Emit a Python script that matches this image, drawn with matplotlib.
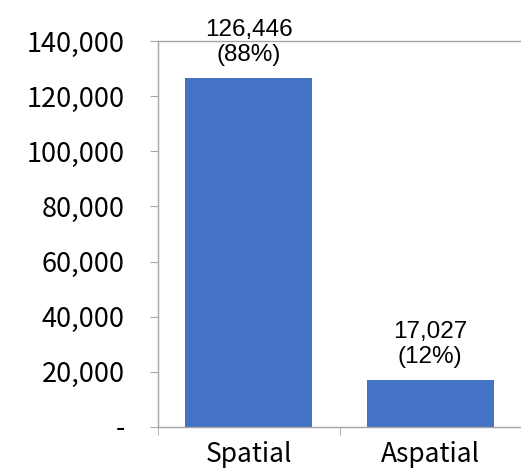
import matplotlib.pyplot as plt
from matplotlib.ticker import FuncFormatter

categories = ["Spatial", "Aspatial"]
counts = [126446, 17027]
shares = ["88%", "12%"]
yticks = [0, 20000, 40000, 60000, 80000, 100000, 120000, 140000]


def fmt(v, pos):
    return "-" if v == 0 else f"{int(v):,}"


fig = plt.figure(figsize=(5.21, 4.76), dpi=100)
ax = fig.add_axes([158 / 521, 49 / 476, 363 / 521, 386 / 476])

x = range(len(categories))
ax.bar(x, counts, width=0.70, color="#4472C4", zorder=2)

for i, (c, s) in enumerate(zip(counts, shares)):
    ax.annotate(f"{c:,}\n({s})", (i, c), xytext=(0, 9), textcoords="offset points",
                ha="center", va="bottom", fontsize=17.5, linespacing=1.15,
                family=["Liberation Sans", "DejaVu Sans"])

ax.set_xlim(-0.5, 1.5)
ax.set_ylim(0, 140000)
ax.set_yticks(yticks)
ax.yaxis.set_major_formatter(FuncFormatter(fmt))
ax.set_xticks(x)
ax.set_xticklabels(categories)
ax.set_xticks([-0.5, 0.5, 1.5], minor=True)
ax.tick_params(axis="x", which="major", length=0, pad=10, labelsize=19)
ax.tick_params(axis="x", which="minor", length=6, color="#A6A6A6", direction="out")
ax.tick_params(axis="y", length=6, color="#A6A6A6", pad=18, labelsize=19.5)

for lab in ax.get_xticklabels() + ax.get_yticklabels():
    lab.set_family(["Noto Sans CJK KR", "DejaVu Sans"])
    lab.set_fontweight("medium")

for side in ["left", "bottom", "top"]:
    ax.spines[side].set_color("#A6A6A6")
    ax.spines[side].set_linewidth(1.0)
ax.spines["right"].set_visible(False)

fig.savefig("out.png", dpi=100)
